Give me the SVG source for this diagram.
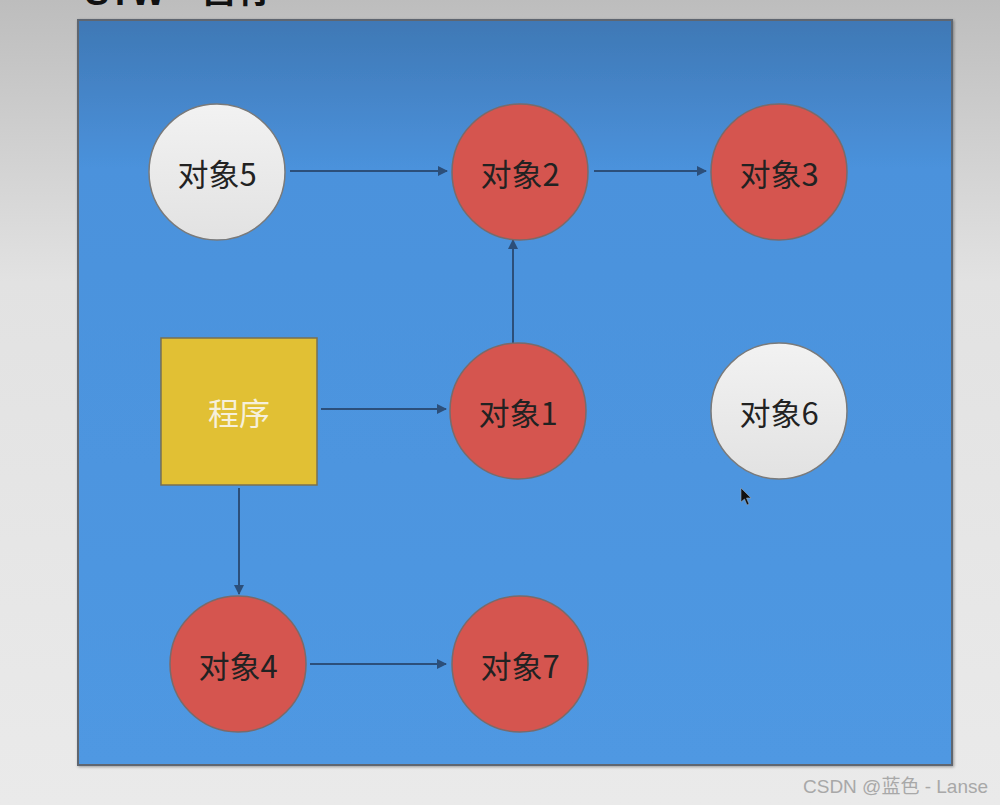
<svg xmlns="http://www.w3.org/2000/svg" width="1000" height="805" viewBox="0 0 1000 805">
<defs>
<linearGradient id="bg" x1="0" y1="0" x2="0" y2="1">
<stop offset="0" stop-color="#bdbdbd"/>
<stop offset="0.35" stop-color="#e2e2e2"/>
<stop offset="1" stop-color="#eaeaea"/>
</linearGradient>
<linearGradient id="panel" x1="0" y1="0" x2="0" y2="1">
<stop offset="0" stop-color="#3f78b5"/>
<stop offset="0.2" stop-color="#4b92dc"/>
<stop offset="1" stop-color="#4f98e2"/>
</linearGradient>
<linearGradient id="white" x1="0" y1="0" x2="0" y2="1">
<stop offset="0" stop-color="#f2f2f2"/>
<stop offset="1" stop-color="#e2e2e2"/>
</linearGradient>
<filter id="sh" x="-5%" y="-5%" width="110%" height="110%">
<feDropShadow dx="1" dy="1" stdDeviation="1.5" flood-color="#000" flood-opacity="0.35"/>
</filter>
<marker id="ah" viewBox="0 0 10 10" refX="9" refY="5" markerWidth="10" markerHeight="10" markerUnits="userSpaceOnUse" orient="auto">
<path d="M0,0 L10,5 L0,10 z" fill="#2c4f7a"/>
</marker>
</defs>
<style>
.red{fill:#d5554f;stroke:#7a6a6a;stroke-width:1.5}
.wht{fill:url(#white);stroke:#7a7a7a;stroke-width:1.5}
.lbl{font-family:"Noto Sans CJK SC","Liberation Sans",sans-serif;font-size:31px;fill:#222;text-anchor:middle;dominant-baseline:central}
.edge{stroke:#2c4f7a;stroke-width:2;fill:none;marker-end:url(#ah)}
</style>
<rect x="0" y="0" width="1000" height="805" fill="url(#bg)"/>
<text x="85" y="5" font-family="Liberation Sans,Noto Sans CJK SC,sans-serif" font-weight="bold" font-size="36" fill="#111">STW<tspan x="200" y="2" font-family="Noto Sans CJK SC,sans-serif" font-size="38">暂停</tspan></text>
<rect x="78" y="20" width="874" height="745" fill="url(#panel)" stroke="#5e6670" stroke-width="2" filter="url(#sh)"/>
<g id="connectors">
<line class="edge" x1="290" y1="171" x2="447" y2="171"/>
<line class="edge" x1="594" y1="171" x2="706" y2="171"/>
<line class="edge" x1="513" y1="343" x2="513" y2="240"/>
<line class="edge" x1="321" y1="409" x2="446" y2="409"/>
<line class="edge" x1="239" y1="488" x2="239" y2="594"/>
<line class="edge" x1="310" y1="664" x2="446" y2="664"/>
</g>
<g id="n5"><circle class="wht" cx="217" cy="172" r="68"/><text class="lbl" x="217" y="172">对象5</text></g>
<g id="n2"><circle class="red" cx="520" cy="172" r="68"/><text class="lbl" x="520" y="172">对象2</text></g>
<g id="n3"><circle class="red" cx="779" cy="172" r="68"/><text class="lbl" x="779" y="172">对象3</text></g>
<g id="prog"><rect x="161" y="338" width="156" height="147" fill="#e1c034" stroke="#7a7050" stroke-width="1.5"/><text class="lbl" x="239" y="411" style="fill:#f6f0dc">程序</text></g>
<g id="n1"><circle class="red" cx="518" cy="411" r="68"/><text class="lbl" x="518" y="411">对象1</text></g>
<g id="n6"><circle class="wht" cx="779" cy="411" r="68"/><text class="lbl" x="779" y="411">对象6</text></g>
<g id="n4"><circle class="red" cx="238" cy="664" r="68"/><text class="lbl" x="238" y="664">对象4</text></g>
<g id="n7"><circle class="red" cx="520" cy="664" r="68"/><text class="lbl" x="520" y="664">对象7</text></g>
<path d="M741,488 L741,502 L744.5,499 L747,505 L749,504 L746.5,498 L751,498 Z" fill="#111" stroke="#9ab" stroke-width="0.6"/>
<text x="803" y="793" font-family="Liberation Sans,Noto Sans CJK SC,sans-serif" font-size="19" fill="#a8a8a8">CSDN @蓝色 - Lanse</text>
</svg>
